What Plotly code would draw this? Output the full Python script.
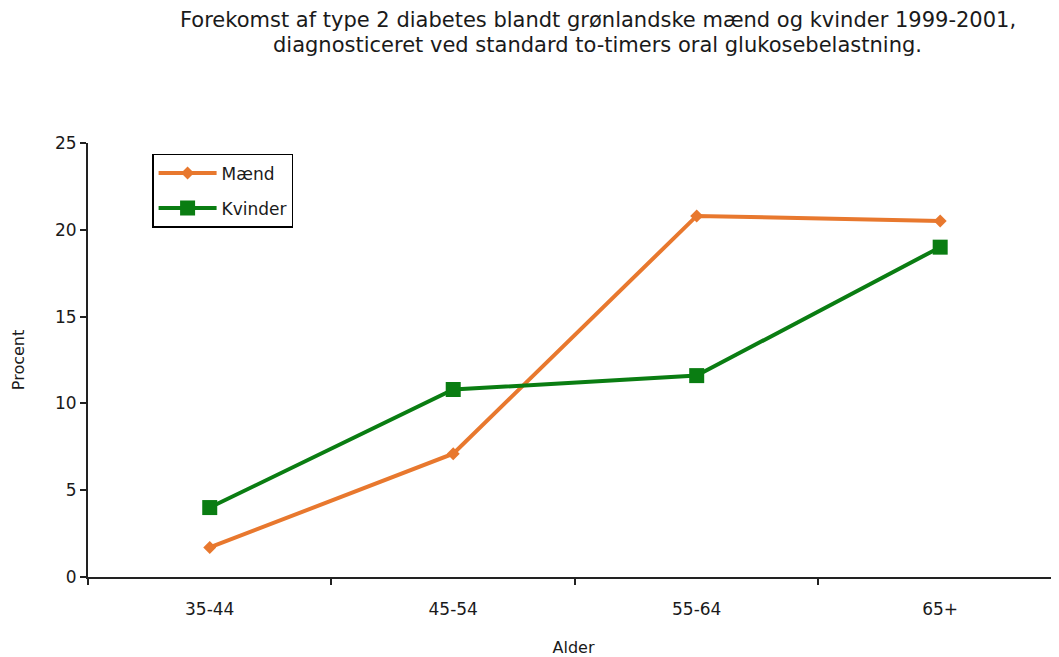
import plotly.graph_objects as go

categories = ["35-44", "45-54", "55-64", "65+"]
maend = [1.7, 7.1, 20.8, 20.5]
kvinder = [4.0, 10.8, 11.6, 19.0]

title_lines = ["Forekomst af type 2 diabetes blandt grønlandske mænd og kvinder 1999-2001,",
               "diagnosticeret ved standard to-timers oral glukosebelastning."]

FONT = "DejaVu Sans"
TXT = "#1a1a1a"

fig = go.Figure()
fig.add_trace(go.Scatter(
    x=categories, y=maend, name="Mænd", mode="lines+markers",
    legendgroup="m",
    line=dict(color="#E8782E", width=4),
    marker=dict(symbol="diamond", size=10, color="#E8782E"),
))
fig.add_trace(go.Scatter(
    x=categories, y=kvinder, name="Kvinder", mode="lines+markers",
    legendgroup="k",
    line=dict(color="#0A7D12", width=4),
    marker=dict(symbol="square", size=15, color="#0A7D12"),
))

for line_text, ypos in zip(title_lines, [1.2834, 1.2258]):
    fig.add_annotation(
        text=line_text, xref="paper", yref="paper",
        x=0.525, y=ypos, xanchor="center", yanchor="middle",
        showarrow=False, align="center",
        font=dict(family=FONT, size=21, color=TXT),
    )

fig.update_layout(
    width=1051, height=649,
    margin=dict(l=80, r=0, t=135, b=80),
    paper_bgcolor="white", plot_bgcolor="white",
    font=dict(family=FONT, size=17, color=TXT),
    showlegend=True,
    legend=dict(x=0.066, y=0.975, xanchor="left", yanchor="top",
                bordercolor="black", borderwidth=1.5, bgcolor="white",
                font=dict(family=FONT, size=17, color=TXT),
                traceorder="grouped", tracegroupgap=10, itemwidth=58),
    xaxis=dict(
        type="category", range=[-0.5, 3.488],
        showline=True, linecolor="#222", linewidth=2,
        ticks="outside", ticklen=6, tickcolor="#222", tickwidth=1.5,
        tickson="boundaries", showgrid=False, zeroline=False,
        ticklabelstandoff=16,
        tickfont=dict(family=FONT, size=17, color=TXT),
        title=dict(text="Alder", font=dict(family=FONT, size=16, color=TXT), standoff=23),
    ),
    yaxis=dict(
        range=[0, 25], dtick=5, tick0=0,
        showline=True, linecolor="#222", linewidth=2,
        ticks="outside", ticklen=6, tickcolor="#222", tickwidth=1.5,
        showgrid=False, zeroline=False,
        tickfont=dict(family=FONT, size=17, color=TXT),
        title=dict(text="Procent", font=dict(family=FONT, size=16, color=TXT), standoff=26),
    ),
)

fig.write_html("out.html")
